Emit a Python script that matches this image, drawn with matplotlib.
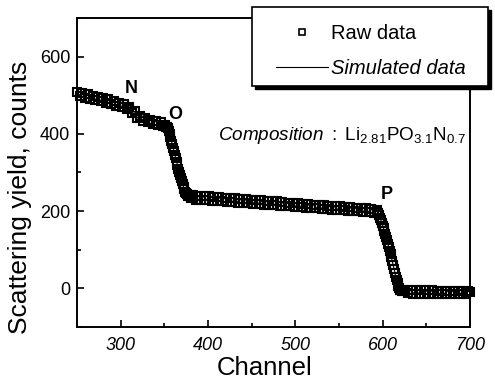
import numpy as np
from matplotlib import pyplot as plt
from matplotlib.ticker import MultipleLocator
from matplotlib.patches import Rectangle

# Channels and scattering yield
channel = [250, 253, 256, 259, 262, 265, 268, 271, 274, 277, 280, 283, 286, 289, 292, 295, 298,
           301, 304, 307, 310, 313, 316, 319, 322, 325, 328, 331, 334, 337, 340, 343, 346, 349,
           351, 352, 353, 354, 355, 356, 357, 358, 359, 360, 361, 362, 363, 364, 365, 366, 367,
           368, 369, 370, 371, 372, 373, 374, 375, 376, 377, 378, 379, 380,
           383, 386, 389, 392, 395, 398, 401, 404, 407, 410, 413, 416, 419, 422, 425, 428, 431,
           434, 437, 440, 443, 446, 449, 452, 455, 458, 461, 464, 467, 470, 473, 476, 479, 482,
           485, 488, 491, 494, 497, 500, 503, 506, 509, 512, 515, 518, 521, 524, 527, 530, 533,
           536, 539, 542, 545, 548, 551, 554, 557, 560, 563, 566, 569, 572, 575, 578, 581, 584,
           587, 590, 593,
           594, 595, 596, 597, 598, 599, 600, 601, 602, 603, 604, 605, 606, 607, 608, 609, 610,
           611, 612, 613, 614, 615, 616, 617, 618, 619, 620, 621, 622, 623,
           626, 629, 632, 635, 638, 641, 644, 647, 650, 653, 656, 659, 662, 665, 668, 671, 674,
           677, 680, 683, 686, 689, 692, 695, 698, 700]
counts = [508, 498, 505, 494, 502, 491, 499, 488, 496, 485, 492, 481, 489, 478, 485, 473, 481,
          469, 477, 465, 470, 455, 458, 441, 446, 434, 441, 430, 437, 426, 434, 422, 430, 420,
          424, 419, 418, 414, 408, 400, 391, 382, 373, 364, 355, 346, 337, 328, 319, 310, 301,
          293, 285, 277, 269, 262, 256, 250, 246, 243, 240, 238, 241, 234,
          241, 230, 240, 229, 239, 228, 238, 227, 237, 226, 236, 225, 235, 224, 234, 223, 233,
          222, 232, 221, 231, 220, 230, 219, 229, 218, 228, 217, 227, 216, 226, 215, 225, 214,
          224, 213, 222, 212, 221, 211, 220, 210, 219, 209, 218, 208, 217, 207, 216, 206, 215,
          205, 214, 204, 213, 203, 212, 202, 211, 201, 210, 200, 209, 199, 208, 198, 207, 197,
          206, 196, 203,
          198, 196, 190, 183, 176, 169, 162, 155, 148, 140, 132, 124, 116, 107, 98, 89, 80,
          70, 60, 50, 40, 30, 21, 13, 6, 1, -3, -5, -7, -8,
          -3, -13, -4, -14, -4, -14, -5, -14, -5, -15, -5, -15, -6, -15, -6, -15, -6,
          -15, -6, -15, -6, -15, -6, -15, -7, -10]

# Edge labels
edge_labels = ['N', 'O', 'P']
edge_x = [312, 363, 605]
edge_y = [518, 449, 243]

plt.rcParams['font.family'] = ['Liberation Sans', 'DejaVu Sans']
plt.rcParams['mathtext.fontset'] = 'custom'
plt.rcParams['mathtext.rm'] = 'Liberation Sans'
plt.rcParams['mathtext.it'] = 'Liberation Sans:italic'

fig = plt.figure(figsize=(4.95, 3.82), dpi=100)
ax = fig.add_axes([0.1556, 0.144, 0.794, 0.809])

# Simulated line under the raw data squares
ax.plot(channel, counts, '-', color='black', lw=0.8, zorder=2, label='Simulated data')
ax.plot(channel, counts, 's', markersize=6.2, markerfacecolor='none',
        markeredgecolor='black', markeredgewidth=1.5, linestyle='none',
        clip_on=False, zorder=3, label='Raw data')

ax.set_xlim(250, 700)
ax.set_ylim(-100, 700)
ax.xaxis.set_major_locator(MultipleLocator(100))
ax.xaxis.set_minor_locator(MultipleLocator(50))
ax.yaxis.set_major_locator(MultipleLocator(200))
ax.yaxis.set_minor_locator(MultipleLocator(100))
ax.tick_params(which='both', direction='in', width=1.2, labelsize=13)
ax.tick_params(axis='x', pad=7)
ax.tick_params(axis='y', pad=5)
ax.tick_params(which='major', length=5)
ax.tick_params(which='minor', length=3)
for lab in ax.get_xticklabels():
    lab.set_style('italic')
for s in ax.spines.values():
    s.set_linewidth(1.4)

ax.set_xlabel('Channel', fontsize=18.5)
ax.set_ylabel('Scattering yield, counts', fontsize=19)
ax.xaxis.set_label_coords(0.478, -0.094)
ax.yaxis.set_label_coords(-0.115, 0.42)

for t, x, y in zip(edge_labels, edge_x, edge_y):
    ax.text(x, y, t, fontsize=13, fontweight='bold', ha='center', va='center')

ax.text(411, 397, r'$\mathit{Composition\ :}\ \mathrm{Li_{2.81}PO_{3.1}N_{0.7}}$',
        fontsize=13.6, ha='left', va='center')

# Legend box with a hard black shadow
box_x0, box_x1 = 252 / 495, 488 / 495
box_y0, box_y1 = 1 - 86 / 382, 1 - 7 / 382
ax.add_patch(Rectangle((box_x0 + 3 / 495, box_y0 - 3 / 382), box_x1 - box_x0, box_y1 - box_y0,
                       transform=fig.transFigure, facecolor='black', edgecolor='black',
                       clip_on=False, zorder=4))
ax.add_patch(Rectangle((box_x0, box_y0), box_x1 - box_x0, box_y1 - box_y0,
                       transform=fig.transFigure, facecolor='white', edgecolor='black',
                       lw=1.2, clip_on=False, zorder=4.1))

handles, labels = ax.get_legend_handles_labels()
leg = ax.legend(handles[::-1], labels[::-1], loc='upper left',
                bbox_to_anchor=(276 / 495, 1 - 24 / 382), bbox_transform=fig.transFigure,
                fontsize=14.5, frameon=False, handlelength=2.6, handletextpad=0.12,
                labelspacing=0.8, borderpad=0, borderaxespad=0)
leg.set_zorder(5)
leg.get_texts()[1].set_style('italic')
leg.legend_handles[0].set_markersize(5)
leg.legend_handles[0].set_markeredgewidth(1.2)

fig.savefig('out.png', dpi=100)
